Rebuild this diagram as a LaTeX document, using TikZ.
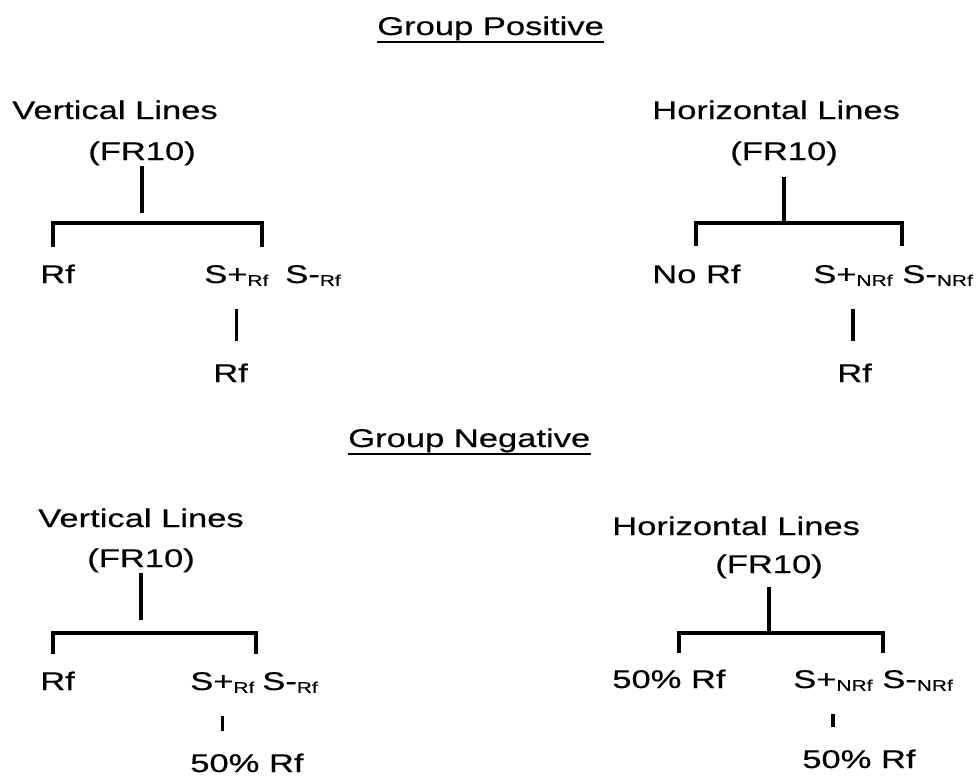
\documentclass[tikz,border=0pt]{standalone}
\usepackage{fontspec}
\setmainfont{Liberation Sans}[FakeStretch=1.35, FakeBold=0.4]
\usetikzlibrary{positioning}
\newcommand{\lowsub}[1]{\raisebox{-2pt}{\fontsize{11}{13}\selectfont #1}}

\begin{document}
\begin{tikzpicture}[x=0.025cm, y=-0.025cm,
  lbl/.style={anchor=base west, inner sep=0pt, font=\fontsize{18.2}{22}\selectfont},
  branch/.style={line width=2.3pt},
  twig/.style={line width=2.3pt, shorten <=16pt, shorten >=16pt},
  uline/.style={line width=1.4pt}]

\useasboundingbox (0,0) rectangle (979,778);

% Group positive heading
\node[lbl] (gpos) at (377,35) {Group Positive};
\draw[uline] ([yshift=-5pt]gpos.base west) -- ([yshift=-5pt]gpos.base east);

% Vertical lines, positive
\node[lbl] (vlA) at (12,119) {Vertical Lines};
\node[lbl] (frA) at (88,160) {(FR10)};
\coordinate (jA) at (146,213);
\coordinate (bA) at (146,223);
\coordinate (lA) at (53,247);
\coordinate (rA) at (262,247);
\draw[branch] (frA.south) -- (frA.south |- jA);
\draw[branch] (lA) |- (bA) -| (rA);
\node[lbl] (rfA) at (40,283) {Rf};
\node[lbl] (spA) at (204,283) {S+\lowsub{Rf}};
\node[lbl] (smA) at (285,283) {S-\lowsub{Rf}};
\node[lbl] (rfA2) at (213,382) {Rf};
\draw[twig] (spA.south) -- (spA.south |- rfA2.north);

% Horizontal lines, positive
\node[lbl] (hlB) at (652,119) {Horizontal Lines};
\node[lbl] (frB) at (730,160) {(FR10)};
\coordinate (bB) at (787,223);
\coordinate (lB) at (696,246);
\coordinate (rB) at (902,246);
\draw[branch, shorten <=8pt] (frB.south) -- (frB.south |- bB);
\draw[branch] (lB) |- (bB) -| (rB);
\node[lbl] (nrB) at (652,283) {No Rf};
\node[lbl] (spB) at (813,283) {S+\lowsub{NRf}};
\node[lbl] (smB) at (902,283) {S-\lowsub{NRf}};
\node[lbl] (rfB2) at (837,382) {Rf};
\draw[twig] (spB.south) -- (spB.south |- rfB2.north);

% Group negative heading
\node[lbl] (gneg) at (348,447) {Group Negative};
\draw[uline] ([yshift=-5pt]gneg.base west) -- ([yshift=-5pt]gneg.base east);

% Vertical lines, negative
\node[lbl] (vlC) at (38,527) {Vertical Lines};
\node[lbl] (frC) at (87,567) {(FR10)};
\coordinate (jC) at (143,620);
\coordinate (bC) at (143,633);
\coordinate (lC) at (53,654);
\coordinate (rC) at (256,654);
\draw[branch] (frC.south) -- (frC.south |- jC);
\draw[branch] (lC) |- (bC) -| (rC);
\node[lbl] (rfC) at (40,690) {Rf};
\node[lbl] (spC) at (190,690) {S+\lowsub{Rf}};
\node[lbl] (smC) at (262,690) {S-\lowsub{Rf}};
\node[lbl] (rfC2) at (190,772) {50\% Rf};
\draw[twig] (spC.south) -- (spC.south |- rfC2.north);

% Horizontal lines, negative
\node[lbl] (hlD) at (612,535) {Horizontal Lines};
\node[lbl] (frD) at (715,573) {(FR10)};
\coordinate (bD) at (770,633);
\coordinate (lD) at (679,653);
\coordinate (rD) at (883,653);
\draw[branch, shorten <=6pt] (frD.south) -- (frD.south |- bD);
\draw[branch] (lD) |- (bD) -| (rD);
\node[lbl] (rfD) at (612,688) {50\% Rf};
\node[lbl] (spD) at (793,688) {S+\lowsub{NRf}};
\node[lbl] (smD) at (882,688) {S-\lowsub{NRf}};
\node[lbl] (rfD2) at (802,768) {50\% Rf};
\draw[twig] (spD.south) -- (spD.south |- rfD2.north);

\end{tikzpicture}
\end{document}
